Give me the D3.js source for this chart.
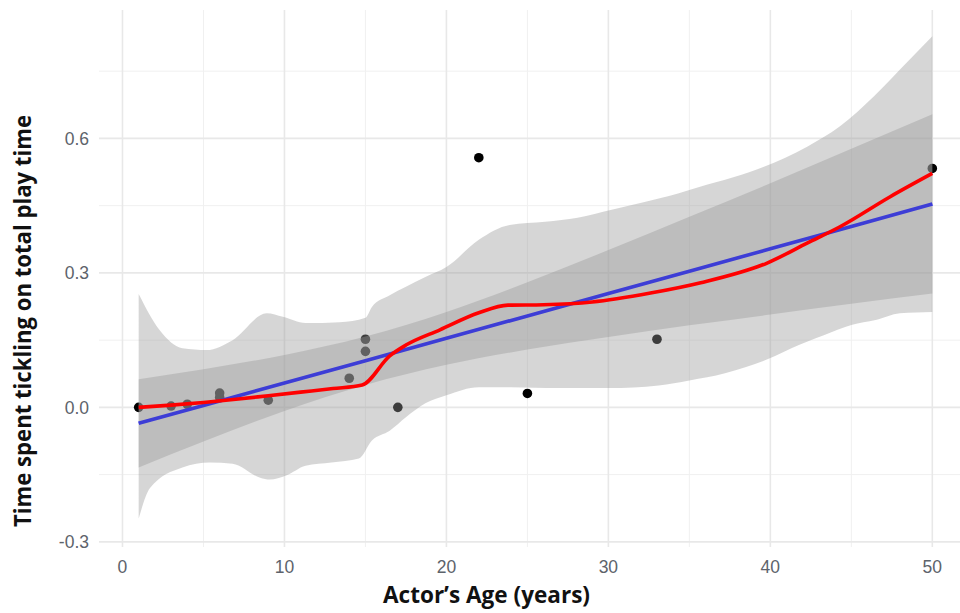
<!DOCTYPE html>
<html>
<head>
<meta charset="utf-8">
<script src="https://cdn.jsdelivr.net/npm/d3@7"></script>
<style>
  html, body { margin: 0; padding: 0; background: #fff; }
  svg { display: block; }
</style>
</head>
<body>
<svg id="chart" width="960" height="613"></svg>
<script>
// ---- data ----
const ages     = [1, 3, 4, 6, 6, 9, 14, 15, 15, 17, 22, 25, 33, 50];
const tickling = [0.000, 0.003, 0.007, 0.032, 0.022, 0.016, 0.065, 0.152, 0.125, 0.000, 0.557, 0.031, 0.152, 0.533];

// linear fit (blue) and its confidence band
const lmAge   = [1, 5, 10, 15, 20, 25, 30, 35, 40, 45, 50];
const lmFit   = [-0.0355, 0.0044, 0.0543, 0.1042, 0.1541, 0.2040, 0.2539, 0.3038, 0.3537, 0.4036, 0.4535];
const lmLower = [-0.134, -0.076, -0.008, 0.050, 0.095, 0.129, 0.157, 0.183, 0.207, 0.231, 0.254];
const lmUpper = [0.063, 0.085, 0.117, 0.158, 0.213, 0.279, 0.351, 0.425, 0.500, 0.577, 0.654];

// loess fit (red)
const loAge = [1, 3, 5, 7, 9, 11, 13, 14.8, 16.5, 17.5, 19.6, 22, 23.8, 26, 29, 32.6, 35.7, 39.8, 42.3, 44.3, 47.4, 50];
const loFit = [0.000, 0.005, 0.011, 0.018, 0.026, 0.034, 0.042, 0.050, 0.115, 0.139, 0.173, 0.211, 0.228, 0.229, 0.235, 0.255, 0.278, 0.322, 0.367, 0.403, 0.470, 0.522];

// loess confidence band
const loBandUpAge = [1, 2.3, 3.7, 5.2, 6.8, 8.9, 9.9, 11.3, 13.4, 15, 15.4, 16.5, 17.5, 18.7, 20, 22, 23.9, 26.1, 28.1, 30.2, 32.3, 34.3, 35.1, 39.2, 42.3, 44.3, 46.4, 48.5, 50];
const loUpper     = [0.253, 0.172, 0.132, 0.128, 0.150, 0.210, 0.202, 0.188, 0.190, 0.200, 0.224, 0.250, 0.269, 0.291, 0.313, 0.374, 0.407, 0.414, 0.423, 0.441, 0.459, 0.477, 0.486, 0.531, 0.582, 0.627, 0.694, 0.772, 0.828];
const loBandLoAge = [1, 1.7, 3.7, 5.4, 6.8, 8.5, 9.1, 10.1, 11.3, 12.9, 14.6, 15.4, 16.5, 17.5, 18.7, 20, 22, 24, 26.9, 30, 33.1, 35, 37.2, 38.5, 40, 41.3, 43.3, 45, 46.5, 48, 50];
const loLower     = [-0.248, -0.180, -0.134, -0.123, -0.126, -0.157, -0.161, -0.152, -0.130, -0.123, -0.114, -0.074, -0.052, -0.022, 0.009, 0.027, 0.045, 0.045, 0.043, 0.043, 0.049, 0.060, 0.076, 0.090, 0.110, 0.132, 0.161, 0.184, 0.195, 0.210, 0.213];

const xMajor = [0, 10, 20, 30, 40, 50];
const xMinor = [5, 15, 25, 35, 45];
const yMajor = [-0.3, 0.0, 0.3, 0.6];
const yMinor = [-0.15, 0.15, 0.45, 0.75];
const yTickLabels = ["-0.3", "0.0", "0.3", "0.6"];

const xTitle = "Actor\u2019s Age (years)";
const yTitle = "Time spent tickling on total play time";

// ---- layout ----
const svg = d3.select("#chart");
const x = d3.scaleLinear().domain([-1.45, 52.45]).range([99, 972]);
const y = d3.scaleLinear().domain([-0.3115, 0.8865]).range([547, 10]);
const pLeft = 99, pRight = 972, pTop = 10, pBottom = 547;

// grid
const grid = svg.append("g");
grid.selectAll(".vmin").data(xMinor).join("line")
  .attr("x1", d => x(d)).attr("x2", d => x(d)).attr("y1", pTop).attr("y2", pBottom)
  .attr("stroke", "#f0f0f0").attr("stroke-width", 1);
grid.selectAll(".hmin").data(yMinor).join("line")
  .attr("x1", pLeft).attr("x2", pRight).attr("y1", d => y(d)).attr("y2", d => y(d))
  .attr("stroke", "#f0f0f0").attr("stroke-width", 1);
grid.selectAll(".vmaj").data(xMajor).join("line")
  .attr("x1", d => x(d)).attr("x2", d => x(d)).attr("y1", pTop).attr("y2", pBottom)
  .attr("stroke", "#e8e8e8").attr("stroke-width", 1.6);
grid.selectAll(".hmaj").data(yMajor).join("line")
  .attr("x1", pLeft).attr("x2", pRight).attr("y1", d => y(d)).attr("y2", d => y(d))
  .attr("stroke", "#e8e8e8").attr("stroke-width", 1.6);

// points (drawn first, ribbons over them)
const pts = ages.map((a, i) => ({a, v: tickling[i]}));
svg.append("g").selectAll("circle").data(pts).join("circle")
  .attr("cx", d => x(d.a)).attr("cy", d => y(d.v)).attr("r", 4.8).attr("fill", "#000");

// lm ribbon + line
const lmData = lmAge.map((a, i) => ({a, f: lmFit[i], lo: lmLower[i], hi: lmUpper[i]}));
svg.append("path").datum(lmData)
  .attr("d", d3.area().x(d => x(d.a)).y0(d => y(d.lo)).y1(d => y(d.hi)).curve(d3.curveMonotoneX))
  .attr("fill", "#999999").attr("fill-opacity", 0.4);
svg.append("path").datum(lmData)
  .attr("d", d3.line().x(d => x(d.a)).y(d => y(d.f)))
  .attr("fill", "none").attr("stroke", "#0000ff").attr("stroke-width", 3.6);

// loess ribbon: upper boundary forward, lower boundary backward
const upPts = loBandUpAge.map((a, i) => [x(a), y(loUpper[i])]);
const loPts = loBandLoAge.map((a, i) => [x(a), y(loLower[i])]);
const upPath = d3.line().curve(d3.curveMonotoneX)(upPts);
const loPathRev = d3.line().curve(d3.curveMonotoneX)(loPts.slice().reverse());
svg.append("path")
  .attr("d", upPath + "L" + loPathRev.slice(1) + "Z")
  .attr("fill", "#999999").attr("fill-opacity", 0.4);

// loess line
const loData = loAge.map((a, i) => ({a, f: loFit[i]}));
svg.append("path").datum(loData)
  .attr("d", d3.line().x(d => x(d.a)).y(d => y(d.f)).curve(d3.curveMonotoneX))
  .attr("fill", "none").attr("stroke", "#ff0000").attr("stroke-width", 3.6)
  .attr("stroke-linejoin", "round");

// tick labels
const tickFont = "'Liberation Sans', Arial, sans-serif";
svg.append("g").selectAll("text").data(yMajor).join("text")
  .attr("x", 89).attr("y", d => y(d)).attr("dy", "0.36em")
  .attr("text-anchor", "end").attr("font-family", tickFont).attr("font-size", 17.5)
  .attr("fill", "#5d636b").text((d, i) => yTickLabels[i]);
svg.append("g").selectAll("text").data(xMajor).join("text")
  .attr("x", d => x(d)).attr("y", 567).attr("dy", "0.36em")
  .attr("text-anchor", "middle").attr("font-family", tickFont).attr("font-size", 17.5)
  .attr("fill", "#5d636b").text(d => d);

// axis titles
const titleFont = "'Open Sans', 'Noto Sans', sans-serif";
svg.append("text").attr("x", 486.5).attr("y", 603)
  .attr("text-anchor", "middle").attr("font-family", titleFont).attr("font-weight", 700)
  .attr("font-size", 23).attr("fill", "#111")
  .attr("textLength", 207).attr("lengthAdjust", "spacingAndGlyphs").text(xTitle);
svg.append("text").attr("transform", "translate(31,321) rotate(-90)")
  .attr("text-anchor", "middle").attr("font-family", titleFont).attr("font-weight", 700)
  .attr("font-size", 23).attr("fill", "#111")
  .attr("textLength", 412).attr("lengthAdjust", "spacingAndGlyphs").text(yTitle);
</script>
</body>
</html>
